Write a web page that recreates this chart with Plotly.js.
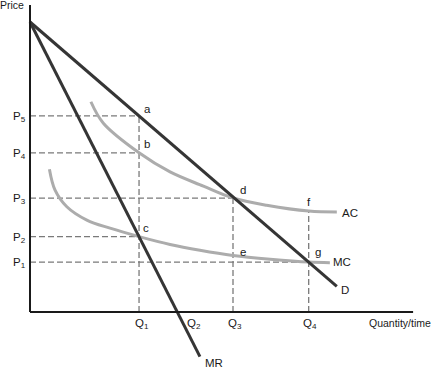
<!DOCTYPE html>
<html><head><meta charset="utf-8">
<script src="https://cdn.plot.ly/plotly-3.0.1.min.js"></script>
<style>html,body{margin:0;padding:0;background:#fff}</style>
</head><body><div id="chart" style="width:438px;height:369px"></div>
<script>
// Demand and marginal revenue lines
const demandQ = [0, 105.8];
const demandP = [100, 8.8];
const mrQ = [0, 58.6];
const mrP = [100, -15.4];
// Average cost and marginal cost curves
const acQ = [21.0, 25.3, 37.6, 48.3, 59.8, 70, 81.6, 96.1, 105.8];
const acP = [72.5, 65.1, 54.9, 48.3, 43.4, 39.3, 36.8, 34.8, 34.5];
const mcQ = [6.7, 8.6, 12.7, 19.6, 27.6, 37.6, 48.3, 58.6, 70, 82.8, 96.1, 103.4];
const mcP = [49.2, 42.1, 36.3, 31.7, 28.9, 26.0, 23.3, 21.3, 19.5, 18.2, 17.2, 17.0];
// Price levels P1..P5
const priceLevels = [17.2, 26.0, 39.3, 54.9, 67.6];
const priceLabels = ['P<sub>1</sub>', 'P<sub>2</sub>', 'P<sub>3</sub>', 'P<sub>4</sub>', 'P<sub>5</sub>'];
const priceGuideEnd = [96.1, 37.6, 70, 37.6, 37.6];
// Quantity levels Q1..Q4
const qLevels = [37.6, 50.9, 70, 96.1];
const qLabels = ['Q<sub>1</sub>', 'Q<sub>2</sub>', 'Q<sub>3</sub>', 'Q<sub>4</sub>'];
const qGuideTop = [67.6, null, 39.3, 34.8];
// Labelled points
const pointLabels = ['a', 'b', 'c', 'd', 'e', 'f', 'g'];
const pointQ = [37.6, 37.6, 37.6, 70, 70, 96.1, 96.1];
const pointP = [67.6, 54.9, 26.0, 39.3, 19.3, 34.8, 17.2];
// Curve labels
const curveLabels = ['AC', 'MC', 'D', 'MR'];
const curveQ = [105.8, 103.4, 105.8, 58.6];
const curveP = [34.5, 17.2, 8.8, -15.4];
// Axis extents
const axisQMax = 132.1;
const axisPMax = 105.9;

const pxPerUnit = 2.9;
const W = 438, H = 369, ox = 30, oy = 312;
const xRange = [-ox / pxPerUnit, (W - ox) / pxPerUnit];
const yRange = [(oy - H) / pxPerUnit, oy / pxPerUnit];

const gx = [], gy = [];
priceLevels.forEach((p, i) => { gx.push(0, priceGuideEnd[i], null); gy.push(p, p, null); });
qLevels.forEach((q, i) => { if (qGuideTop[i] !== null) { gx.push(q, q, null); gy.push(0, qGuideTop[i], null); } });

const dark = '#353535', gray = '#acacac';
const traces = [
  {x: gx, y: gy, mode: 'lines', line: {color: '#7a7a7a', width: 1.3, dash: '6px,3px'}},
  {x: acQ, y: acP, mode: 'lines', line: {color: gray, width: 3, shape: 'spline', smoothing: 1}},
  {x: mcQ, y: mcP, mode: 'lines', line: {color: gray, width: 3, shape: 'spline', smoothing: 1}},
  {x: demandQ, y: demandP, mode: 'lines', line: {color: dark, width: 3}},
  {x: mrQ, y: mrP, mode: 'lines', line: {color: dark, width: 3}},
  {x: [0, 0, null, 0, axisQMax], y: [axisPMax, 0, null, 0, 0], mode: 'lines', line: {color: '#1a1a1a', width: 2}}
];

const fam = 'Liberation Sans, Arial, sans-serif';
const font = {family: fam, size: 11.5, color: '#1a1a1a'};
const smallFont = {family: fam, size: 10.5, color: '#1a1a1a'};
const ann = [];
priceLevels.forEach((p, i) => ann.push({x: 0, y: p, text: priceLabels[i], showarrow: false, xanchor: 'center', yanchor: 'middle', xshift: -11, yshift: -1, font: font}));
const qShift = [3, 16, 2, 1];
qLevels.forEach((q, i) => ann.push({x: q, y: 0, text: qLabels[i], showarrow: false, xanchor: 'center', yanchor: 'middle', xshift: qShift[i], yshift: -12, font: font}));
const pShiftX = [8, 8, 7, 10, 10, 0, 9];
const pShiftY = [7, 9, 9, 8, 4, 9, 10];
pointLabels.forEach((t, i) => ann.push({x: pointQ[i], y: pointP[i], text: t, showarrow: false, xanchor: 'center', yanchor: 'middle', xshift: pShiftX[i], yshift: pShiftY[i], font: font}));
const cShiftX = [13, 12, 8, 14];
const cShiftY = [-1, 0, -4, -6];
curveLabels.forEach((t, i) => ann.push({x: curveQ[i], y: curveP[i], text: t, showarrow: false, xanchor: 'center', yanchor: 'middle', xshift: cShiftX[i], yshift: cShiftY[i], font: font}));
ann.push({x: axisQMax, y: 0, text: 'Quantity/time', showarrow: false, xanchor: 'right', yanchor: 'middle', xshift: 20, yshift: -11, font: smallFont});
ann.push({x: 0, y: axisPMax, text: 'Price', showarrow: false, xanchor: 'right', yanchor: 'middle', xshift: -4, yshift: 0, font: smallFont});

const layout = {
  width: W, height: H, margin: {l: 0, r: 0, t: 0, b: 0},
  paper_bgcolor: '#fff', plot_bgcolor: '#fff', showlegend: false,
  xaxis: {range: xRange, visible: false, fixedrange: true},
  yaxis: {range: yRange, visible: false, fixedrange: true},
  annotations: ann, hovermode: false
};
Plotly.newPlot('chart', traces, layout, {displayModeBar: false});
</script></body></html>
